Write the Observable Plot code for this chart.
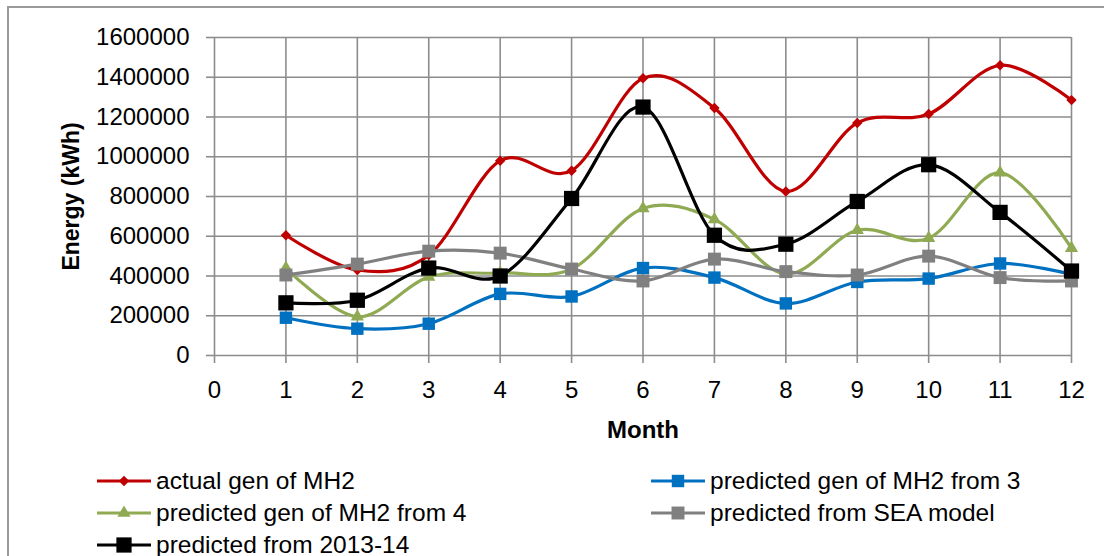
<!DOCTYPE html>
<html>
<head>
<meta charset="utf-8">
<script src="https://cdn.jsdelivr.net/npm/d3@7"></script>
<script src="https://cdn.jsdelivr.net/npm/@observablehq/plot@0.6"></script>
<style>
  html, body { margin: 0; padding: 0; width: 1104px; height: 556px; overflow: hidden; background: #fff; }
  #frame { position: absolute; left: 7px; top: 6px; width: 1200px; height: 700px; border: 2px solid #9a9a9a; box-sizing: border-box; }
  #chart { position: absolute; left: 0; top: 0; }
  #legend {
    position: absolute; left: 97px; top: 465px;
    display: grid; grid-template-columns: 554px auto; grid-auto-rows: 32px;
    font-family: "Liberation Sans", Arial, sans-serif; font-size: 24.5px; color: #000;
  }
  .item { display: flex; align-items: center; white-space: nowrap; }
  .item svg { margin-right: 5px; flex: none; }
</style>
</head>
<body>
<div id="frame"></div>
<div id="chart"></div>
<div id="legend"></div>
<script>
// Monthly energy generation (kWh), actual vs. predicted
const months = [1, 2, 3, 4, 5, 6, 7, 8, 9, 10, 11, 12];
const actualMH2   = [605000, 430000, 505000, 980000, 930000, 1395000, 1245000, 825000, 1170000, 1215000, 1460000, 1285000];
const predFrom3   = [190000, 135000, 160000, 310000, 297000, 440000, 392000, 262000, 370000, 387000, 463000, 408000];
const predFrom4   = [440000, 195000, 395000, 415000, 435000, 740000, 685000, 410000, 630000, 590000, 920000, 540000];
const predSEA     = [405000, 460000, 525000, 515000, 435000, 375000, 485000, 422000, 405000, 500000, 392000, 375000];
const pred201314  = [265000, 278000, 440000, 400000, 790000, 1250000, 605000, 560000, 775000, 960000, 720000, 425000];

const xTicks = [0, 1, 2, 3, 4, 5, 6, 7, 8, 9, 10, 11, 12];
const yTicks = [0, 200000, 400000, 600000, 800000, 1000000, 1200000, 1400000, 1600000];

const seriesNames = [
  "actual gen of MH2",
  "predicted gen of MH2 from 3",
  "predicted gen of MH2 from 4",
  "predicted from SEA model",
  "predicted from 2013-14"
];
const seriesValues = [actualMH2, predFrom3, predFrom4, predSEA, pred201314];

// drawing style per series
const styles = [
  {color: "#c00000", symbol: "diamond2", r: 4.7},
  {color: "#0070c0", symbol: "square", r: 7.0},
  {color: "#8faa52", symbol: "triangle", r: 4.9},
  {color: "#808080", symbol: "square", r: 7.3},
  {color: "#000000", symbol: "square", r: 8.6}
];

const gridColor = "#8c8c8c";
const font = '"Liberation Sans", Arial, sans-serif';

const series = seriesNames.map((name, i) => ({
  name,
  ...styles[i],
  data: months.map((m, j) => ({month: m, value: seriesValues[i][j]}))
}));

const seriesMarks = series.flatMap(s => [
  Plot.line(s.data, {x: "month", y: "value", stroke: s.color, strokeWidth: 3.2, curve: "cardinal"}),
  Plot.dot(s.data, {x: "month", y: "value", symbol: s.symbol, r: s.r, fill: s.color, stroke: "none"})
]);

const chart = Plot.plot({
  width: 1104,
  height: 450,
  marginLeft: 214,
  marginRight: 33,
  marginTop: 37,
  marginBottom: 95,
  style: {fontFamily: font, fontSize: "24px", color: "#000", background: "transparent", overflow: "visible"},
  x: {domain: [0, 12]},
  y: {domain: [0, 1600000]},
  marks: [
    Plot.gridX(xTicks, {stroke: gridColor, strokeOpacity: 1, strokeWidth: 1.6}),
    Plot.gridY(yTicks, {stroke: gridColor, strokeOpacity: 1, strokeWidth: 1.6}),
    Plot.axisX(xTicks, {tickSize: 8, tickPadding: 17, stroke: gridColor, strokeWidth: 1.6, label: null, tickFormat: d => String(d)}),
    Plot.axisY(yTicks, {tickSize: 8, tickPadding: 17, stroke: gridColor, strokeWidth: 1.6, label: null, tickFormat: d3.format("d")}),
    ...seriesMarks,
    Plot.text(["Month"], {frameAnchor: "bottom", lineAnchor: "bottom", dy: 82, text: d => d, fontWeight: "bold", fontSize: 24, fill: "#000"}),
    Plot.text(["Energy (kWh)"], {frameAnchor: "left", textAnchor: "middle", lineAnchor: "middle", dx: -143, text: d => d, rotate: -90, fontWeight: "bold", fontSize: 23, fill: "#000"})
  ]
});
document.getElementById("chart").append(chart);

// legend below the plot
const symbolTypes = {diamond2: d3.symbolDiamond2, square: d3.symbolSquare, triangle: d3.symbolTriangle};
const legend = d3.select("#legend");
series.forEach(s => {
  const item = legend.append("div").attr("class", "item");
  const svg = item.append("svg").attr("width", 54).attr("height", 20);
  svg.append("line").attr("x1", 0).attr("x2", 54).attr("y1", 10).attr("y2", 10)
    .attr("stroke", s.color).attr("stroke-width", 3);
  svg.append("path")
    .attr("transform", "translate(27,10)")
    .attr("d", d3.symbol(symbolTypes[s.symbol], Math.PI * s.r * s.r)())
    .attr("fill", s.color);
  item.append("span").text(s.name);
});
</script>
</body>
</html>
